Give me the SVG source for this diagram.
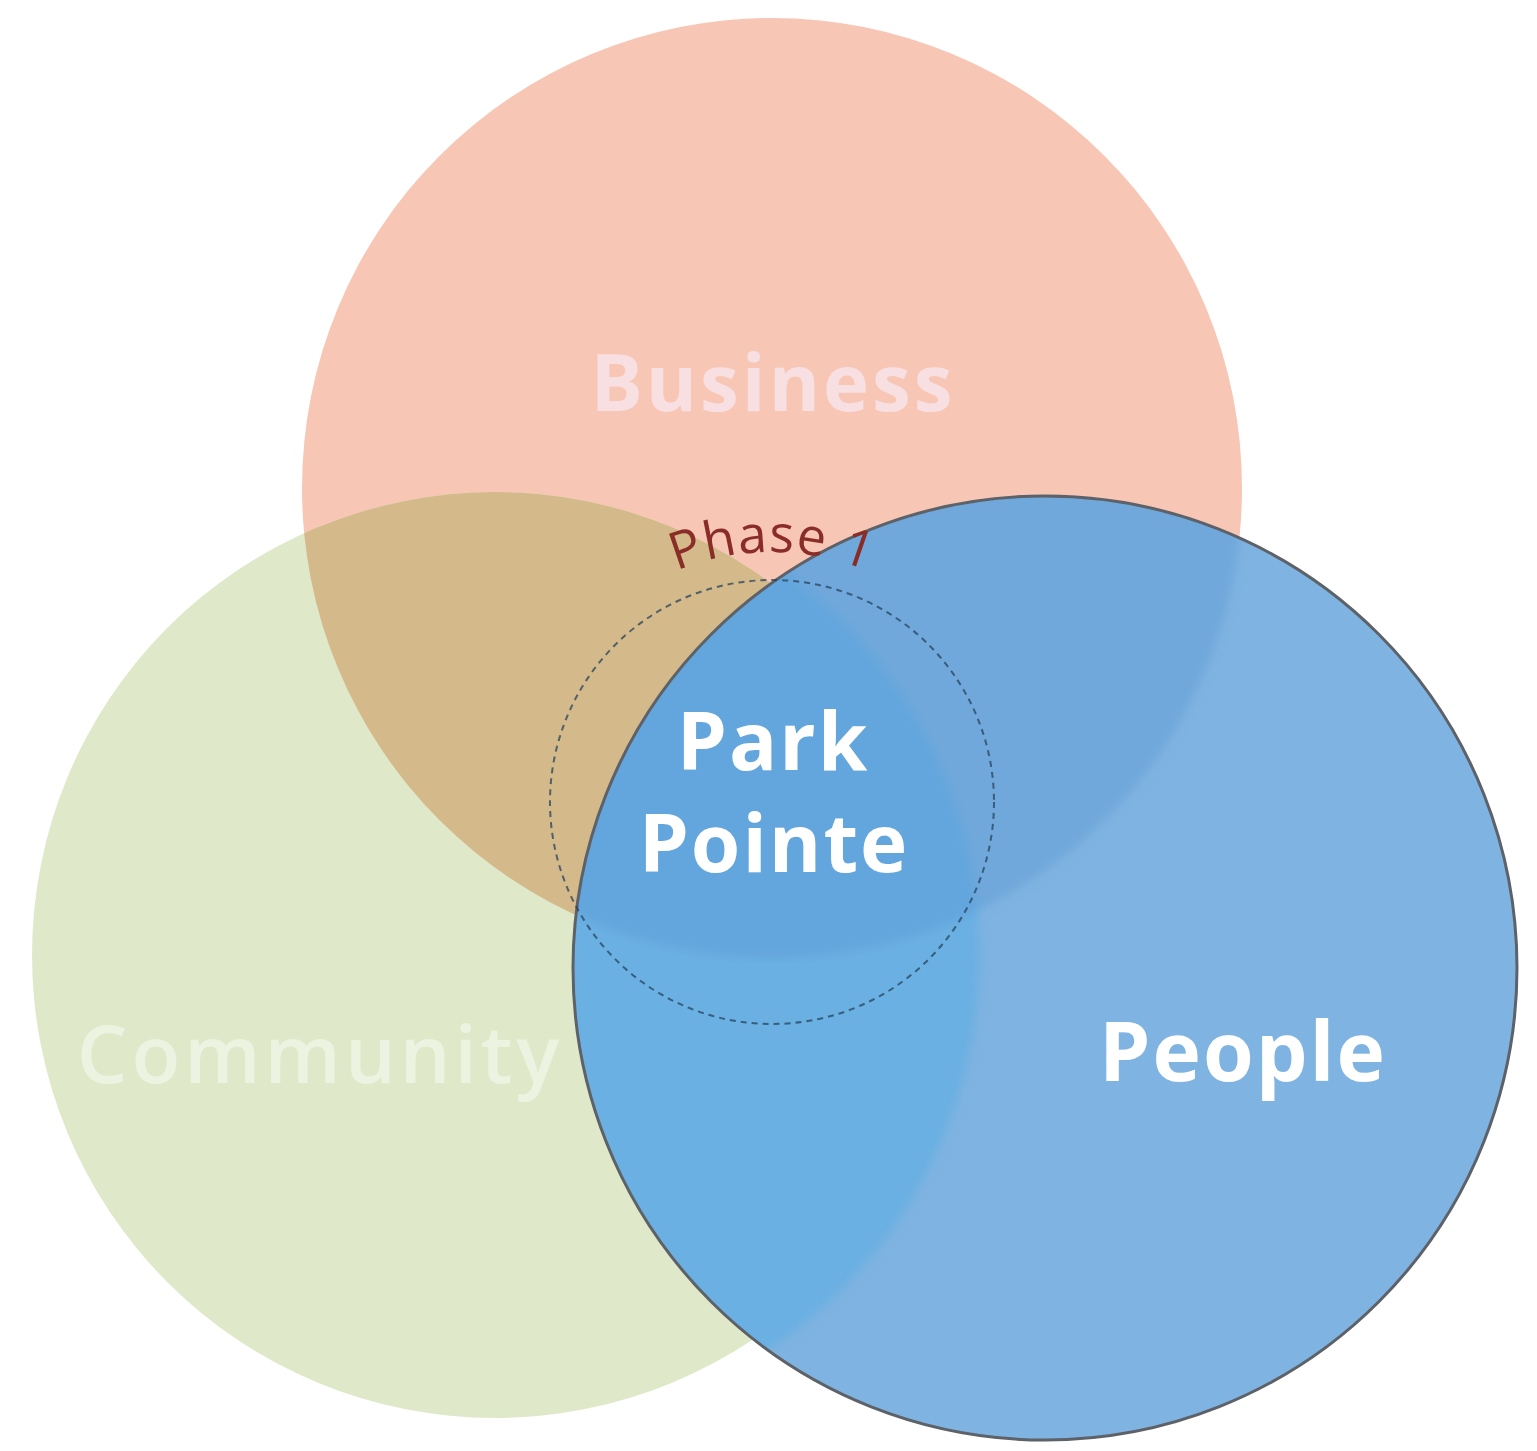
<svg xmlns="http://www.w3.org/2000/svg" width="1537" height="1451" viewBox="0 0 1537 1451">
<style>
.lbl{font-family:"Open Sans","Liberation Sans",sans-serif;text-anchor:middle}
.big{font-weight:700;fill:#ffffff}
</style>
<defs>
<clipPath id="clipPink"><circle cx="772" cy="488" r="470"/></clipPath>
<clipPath id="clipBlue"><circle cx="1045" cy="968" r="471"/></clipPath>
<filter id="soft" x="-10%" y="-10%" width="120%" height="120%"><feGaussianBlur stdDeviation="5"/></filter>
<path id="phaseArc" d="M 522 802 A 250 250 0 0 1 1022 802"/>
</defs>
<rect width="1537" height="1451" fill="#ffffff"/>
<g id="business">
<circle cx="772" cy="488" r="470" fill="#f7c6b5"/>
<text class="lbl" x="773" y="411" font-size="78" font-weight="700" letter-spacing="3" fill="#f8dfe1">Business</text>
</g>
<g id="community">
<circle cx="495" cy="955" r="463" fill="#dfe9c9"/>
<circle cx="495" cy="955" r="463" fill="#d4b98a" clip-path="url(#clipPink)"/>
<text class="lbl" x="320" y="1083" font-size="80" font-weight="600" letter-spacing="4" fill="#ecf3e1">Community</text>
</g>
<g id="people">
<circle cx="1045" cy="968" r="472" fill="#7fb3e1"/>
<g clip-path="url(#clipBlue)">
<g filter="url(#soft)">
<circle cx="505" cy="955" r="475" fill="#6bb0e2"/>
<circle cx="772" cy="488" r="470" fill="#70a8db"/>
<g clip-path="url(#clipPink)"><circle cx="505" cy="955" r="475" fill="#64a6dd"/></g>
</g>
</g>
<circle cx="1045" cy="968" r="472" fill="none" stroke="#5d6168" stroke-width="3"/>
<text class="lbl big" x="1243" y="1081" font-size="82" letter-spacing="2">People</text>
</g>
<g id="park-pointe">
<circle cx="772" cy="802" r="222" fill="none" stroke="#27435c" stroke-opacity="0.75" stroke-width="2" stroke-dasharray="6 5"/>
<text class="lbl big" x="773" y="770" font-size="80" letter-spacing="2">Park</text>
<text class="lbl big" x="774" y="872" font-size="80" letter-spacing="2">Pointe</text>
</g>
<g id="phase1">
<text font-family="'Open Sans','Liberation Sans',sans-serif" font-size="52" letter-spacing="1" text-anchor="middle" fill="#8a2d27"><textPath href="#phaseArc" startOffset="50%">Phase 1</textPath></text>
</g>
<g id="connectors"/>
</svg>
